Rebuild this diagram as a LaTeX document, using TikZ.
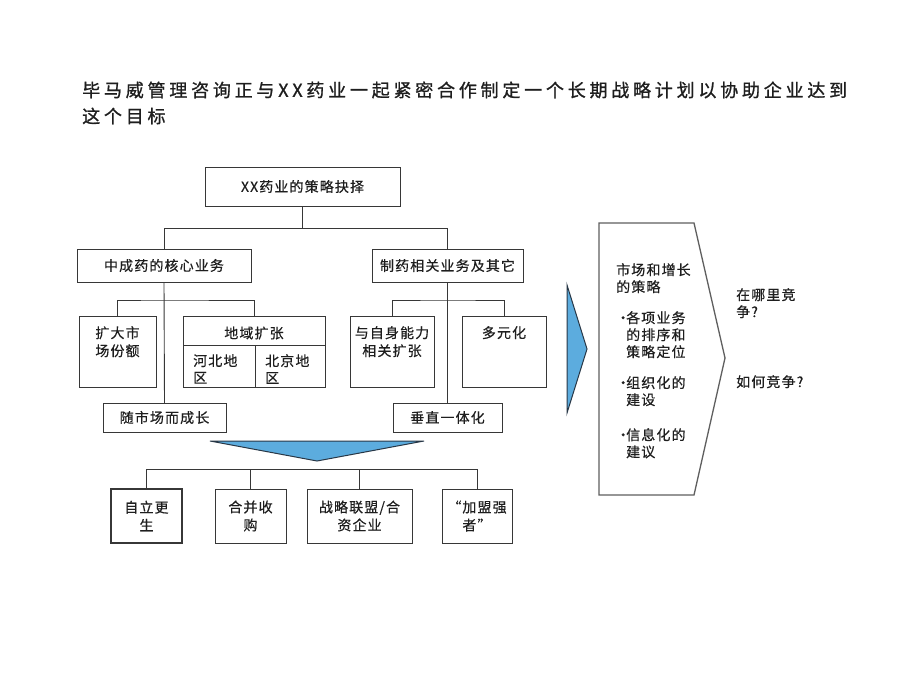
\documentclass[tikz,border=0pt]{standalone}
\usepackage{fontspec}
\newfontfamily\cjk[LetterSpace=8,FakeBold=0.4]{Noto Sans CJK SC}
\newfontfamily\cjktitle[LetterSpace=21,FakeBold=1]{Noto Sans CJK SC}
\definecolor{linec}{RGB}{55,55,55}
\definecolor{trifill}{RGB}{92,172,222}
\definecolor{triline}{RGB}{40,55,70}
\definecolor{txtc}{RGB}{30,30,30}
\begin{document}
\begin{tikzpicture}[x=1pt,y=-1pt,
  box/.style={draw=linec, line width=1pt, inner sep=0pt, outer sep=0pt},
  lbl/.style={font=\cjk\fontsize{14}{18}\selectfont, text=txtc, inner sep=0pt, align=center},
  lbll/.style={font=\cjk\fontsize{14}{17}\selectfont, text=txtc, inner sep=0pt, align=left},
  boxt/.style={box, lbl},
  conn/.style={draw=linec, line width=0.9pt},
  titl/.style={font=\cjktitle\fontsize{18}{26}\selectfont, text=txtc, inner sep=0pt, anchor=west},
  tri/.style={fill=trifill, draw=triline, line width=1pt, line join=miter},
  chev/.style={draw=linec!80, line width=1.3pt, line join=miter}]
\useasboundingbox[fill=white] (0,0) rectangle (920,690);

% title
\node[titl] (t1) at (82,90) {毕马威管理咨询正与XX药业一起紧密合作制定一个长期战略计划以协助企业达到};
\node[titl] (t2) at (82,116) {这个目标};

% top
\node[boxt, minimum width=195, minimum height=39] (top) at (302.5,186.5) {XX药业的策略抉择};
\node[boxt, minimum width=174, minimum height=33] (l1) at (164,265.5) {中成药的核心业务};
\node[boxt, minimum width=151, minimum height=33] (r1) at (447.5,265.5) {制药相关业务及其它};
\coordinate (j1) at (302.5,228);
\draw[conn] (top.south) -- (j1);
\draw[conn] (l1.north) |- (j1);
\draw[conn] (r1.north) |- (j1);

% left second level
\node[box, minimum width=77, minimum height=71] (a1) at (117.5,351.5) {};
\node[lbl, anchor=north] (a1t) at (117.5,326) {扩大市\\场份额};
\node[box, minimum width=142, minimum height=71] (a2) at (254,351.5) {};
\node[lbl] (a2t) at (254,333) {地域扩张};
\draw[conn] (a2.west |- 0,345) -- (a2.east |- 0,345);
\draw[conn] (255,345) -- (255,387);
\node[lbll, anchor=north west] (a2l) at (193,354) {河北地\\区};
\node[lbll, anchor=north west] (a2r) at (265,354) {北京地\\区};
\node[boxt, minimum width=123, minimum height=29] (g1) at (164.5,417.5) {随市场而成长};
\coordinate (j2) at (164,300);
\draw[conn] (l1.south) -- (g1.north);
\draw[conn] (a1.north) |- (j2) -| (a2.north);

% right second level
\node[box, minimum width=84, minimum height=71] (a3) at (392,351.5) {};
\node[lbl, anchor=north] (a3t) at (392,326) {与自身能力\\相关扩张};
\node[box, minimum width=84, minimum height=71] (a4) at (504,351.5) {};
\node[lbl, anchor=north] (a4t) at (504,326) {多元化};
\node[boxt, minimum width=109, minimum height=29] (g2) at (447.5,417.5) {垂直一体化};
\coordinate (j3) at (447.5,300);
\draw[conn] (r1.south) -- (g2.north);
\draw[conn] (a3.north) |- (j3) -| (a4.north);

% down triangle
\draw[tri] (210,441) -- (424,441) -- (317,461) -- cycle;

% bottom row
\node[boxt, line width=1.6pt, minimum width=71, minimum height=54] (b1) at (146.5,516) {自立更\\生};
\node[boxt, minimum width=71, minimum height=54] (b2) at (250.5,516) {合并收\\购};
\node[boxt, minimum width=105, minimum height=54] (b3) at (359.5,516) {战略联盟/合\\资企业};
\node[boxt, minimum width=70, minimum height=54] (b4) at (477,516) {“加盟强\\者”};
\draw[conn] (b1.north) -- ++(0,-20) -| (b4.north);
\draw[conn] (b2.north) -- ++(0,-20);
\draw[conn] (b3.north) -- ++(0,-20);

% right triangle
\draw[tri] (567,285) -- (587,349) -- (567,413) -- cycle;

% chevron
\draw[chev] (599,223) -- (694,223) -- (725,358) -- (694,495) -- (599,495) -- cycle;
\node[lbll, anchor=north west] (c1) at (616,263) {市场和增长\\的策略};
\node[lbll, anchor=north west] (c2) at (616,311) {\makebox[10pt][l]{•}各项业务\\\hspace*{10pt}的排序和\\\hspace*{10pt}策略定位};
\node[lbll, anchor=north west] (c3) at (616,376) {\makebox[10pt][l]{•}组织化的\\\hspace*{10pt}建设};
\node[lbll, anchor=north west] (c4) at (616,428) {\makebox[10pt][l]{•}信息化的\\\hspace*{10pt}建议};

% right texts
\node[lbll, anchor=north west] (q1) at (736,288) {在哪里竞\\争?};
\node[lbll, anchor=north west] (q2) at (736,375) {如何竞争?};
\end{tikzpicture}
\end{document}
